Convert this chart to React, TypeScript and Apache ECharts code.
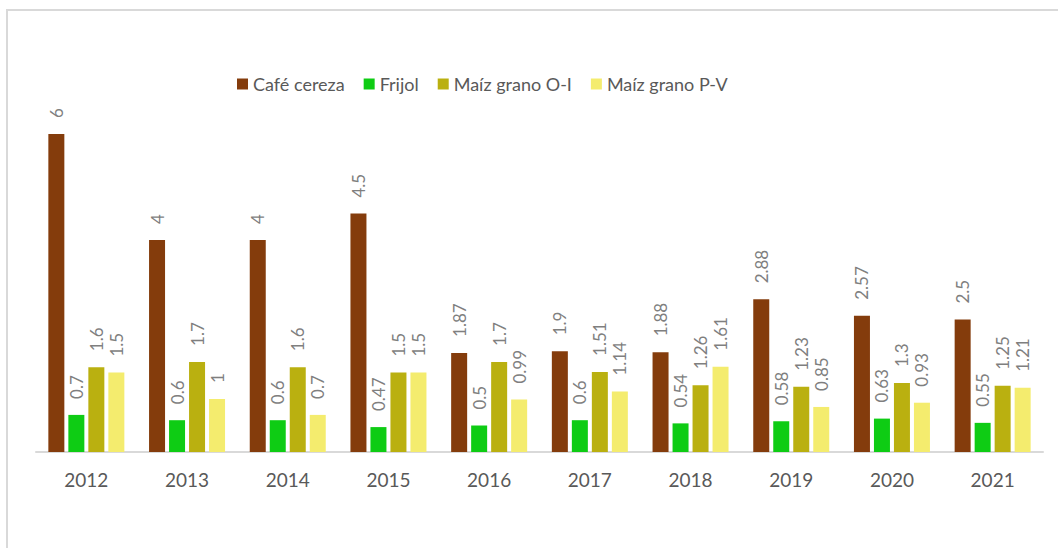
import React, { useEffect, useRef } from "react";
import * as echarts from "echarts";

const years = ["2012", "2013", "2014", "2015", "2016", "2017", "2018", "2019", "2020", "2021"];
const seriesNames = ["Café cereza", "Frijol", "Maíz grano O-I", "Maíz grano P-V"];
const cafe = [6, 4, 4, 4.5, 1.87, 1.9, 1.88, 2.88, 2.57, 2.5];
const frijol = [0.7, 0.6, 0.6, 0.47, 0.5, 0.6, 0.54, 0.58, 0.63, 0.55];
const maizOI = [1.6, 1.7, 1.6, 1.5, 1.7, 1.51, 1.26, 1.23, 1.3, 1.25];
const maizPV = [1.5, 1, 0.7, 1.5, 0.99, 1.14, 1.61, 0.85, 0.93, 1.21];
const colors = ["#843C0C", "#0ECC14", "#BAB010", "#F4EC6E"];

const FONT = "Lato, 'Open Sans', 'Liberation Sans', sans-serif";

export default function App() {
  const ref = useRef<HTMLDivElement>(null);
  useEffect(() => {
    if (!ref.current) return;
    const chart = echarts.init(ref.current, undefined, { renderer: "svg" });
    const data = [cafe, frijol, maizOI, maizPV];
    chart.setOption({
      animation: false,
      backgroundColor: "#ffffff",
      legend: {
        top: 70,
        left: 232,
        itemWidth: 11,
        itemHeight: 11,
        itemGap: 19,
        icon: "rect",
        textStyle: { color: "#595959", fontSize: 18, fontFamily: FONT },
        data: seriesNames,
      },
      grid: { left: 36, right: 15, top: 81, bottom: 96 },
      xAxis: {
        type: "category",
        data: years,
        axisLine: { lineStyle: { color: "#d9d9d9", width: 2 } },
        axisTick: { show: false },
        axisLabel: { color: "#595959", fontSize: 19, fontFamily: FONT, margin: 18 },
      },
      yAxis: {
        type: "value",
        min: 0,
        max: 7,
        show: false,
        splitLine: { show: false },
      },
      graphic: [
        { type: "line", shape: { x1: 6, y1: 10, x2: 1058, y2: 10 }, style: { stroke: "#d9d9d9", lineWidth: 2 } },
        { type: "line", shape: { x1: 7, y1: 9, x2: 7, y2: 548 }, style: { stroke: "#d9d9d9", lineWidth: 2 } },
      ],
      series: seriesNames.map((name, i) => ({
        name,
        type: "bar",
        data: data[i],
        barWidth: 16,
        barGap: "25%",
        itemStyle: { color: colors[i] },
        label: {
          show: true,
          position: "top",
          rotate: 90,
          align: "left",
          verticalAlign: "middle",
          distance: 16,
          color: "#7f7f7f",
          fontSize: 17,
          fontFamily: FONT,
        },
      })),
    });
    return () => chart.dispose();
  }, []);
  return (
    <div
      ref={ref}
      style={{ position: "fixed", left: 0, top: 0, width: 1058, height: 548 }}
    />
  );
}
